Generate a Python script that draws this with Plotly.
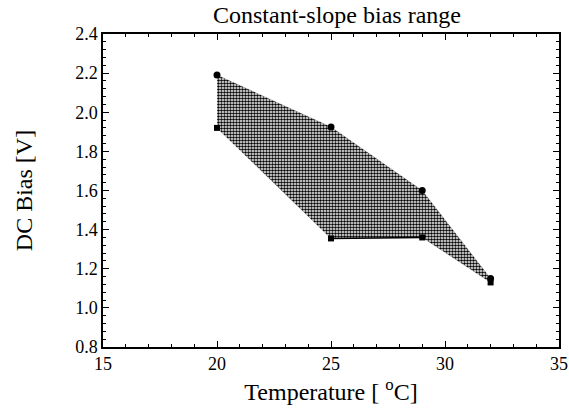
import plotly.graph_objects as go

# Data
upper_x = [20, 25, 29, 32]
upper_y = [2.19, 1.925, 1.60, 1.15]
lower_x = [20, 25, 29, 32]
lower_y = [1.92, 1.355, 1.36, 1.13]

title = "Constant-slope bias range"
x_title = "Temperature [ <sup>o</sup>C]"
y_title = "DC Bias [V]"
x_ticks = [15, 20, 25, 30, 35]
y_ticks = [0.8, 1.0, 1.2, 1.4, 1.6, 1.8, 2.0, 2.2, 2.4]

FONT = "Liberation Serif, Times New Roman, serif"

# closed band between the two series (built from the data arrays)
band_x = upper_x + lower_x[::-1]
band_y = upper_y + lower_y[::-1]

fig = go.Figure()
fig.add_trace(go.Scatter(
    x=band_x, y=band_y, mode="lines", fill="toself",
    fillcolor="white",
    fillpattern=dict(shape=".", size=3, solidity=0.55, fgcolor="black", bgcolor="white", fillmode="replace"),
    line=dict(width=0.5, color="rgba(0,0,0,0.3)"), showlegend=False, hoverinfo="skip"))
fig.add_trace(go.Scatter(
    x=lower_x[1:3], y=lower_y[1:3], mode="lines",
    line=dict(width=1.5, color="black"), showlegend=False, hoverinfo="skip"))
fig.add_trace(go.Scatter(
    x=upper_x, y=upper_y, mode="markers",
    marker=dict(symbol="circle", size=7, color="black"),
    showlegend=False, hoverinfo="skip"))
fig.add_trace(go.Scatter(
    x=lower_x, y=lower_y, mode="markers",
    marker=dict(symbol="square", size=6, color="black"),
    showlegend=False, hoverinfo="skip"))

axis_common = dict(
    showgrid=False, zeroline=False, showline=True, linecolor="black", linewidth=1.5,
    mirror="ticks", ticks="inside", ticklen=6, tickwidth=1.2, tickcolor="black",
    tickfont=dict(family=FONT, size=18, color="black"), automargin=False,
)

fig.update_xaxes(range=[15, 35], tickvals=x_ticks, ticktext=[str(v) for v in x_ticks],
                 minor=dict(dtick=1, ticks="inside", ticklen=3, tickcolor="black", tickwidth=1),
                 title=dict(text=x_title, font=dict(family=FONT, size=24, color="black"), standoff=10),
                 **axis_common)
fig.update_yaxes(range=[0.8, 2.4], tickvals=y_ticks, ticktext=[f"{v:.1f}" for v in y_ticks],
                 minor=dict(dtick=0.04, ticks="inside", ticklen=3, tickcolor="black", tickwidth=1),
                 title=dict(text=y_title, font=dict(family=FONT, size=24, color="black"), standoff=36),
                 **axis_common)

fig.update_layout(
    width=569, height=419,
    margin=dict(l=103, r=10, t=34, b=72),
    paper_bgcolor="white", plot_bgcolor="white",
    title=dict(text=title, font=dict(family=FONT, size=24, color="black"),
               x=337 / 569, xanchor="center", y=1 - 15 / 419, yanchor="middle"),
)

fig.write_html("out.html", config={"displayModeBar": False},
               post_script="document.body.style.margin='0px';")
